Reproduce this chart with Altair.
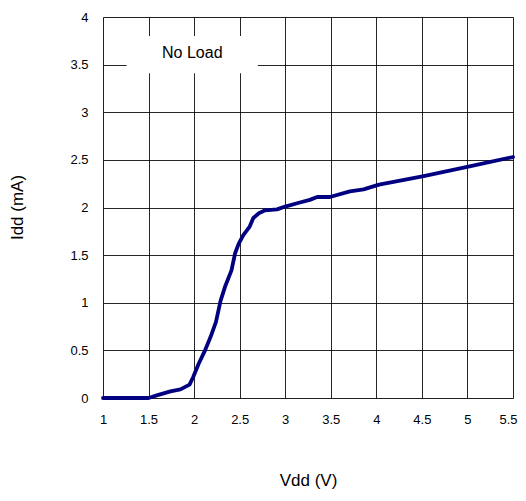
import altair as alt
import pandas as pd

vdd = [1.0, 1.5, 1.6, 1.74, 1.85, 1.95, 1.99, 2.05, 2.12, 2.18, 2.24, 2.29, 2.34, 2.41, 2.45, 2.49, 2.54, 2.61, 2.65, 2.71, 2.78, 2.91, 3.0, 3.15, 3.27, 3.35, 3.49, 3.71, 3.86, 4.03, 4.52, 5.01, 5.5]
idd = [0.0, 0.0, 0.03, 0.07, 0.09, 0.14, 0.22, 0.36, 0.5, 0.64, 0.80, 1.02, 1.17, 1.34, 1.52, 1.62, 1.71, 1.80, 1.89, 1.94, 1.97, 1.98, 2.01, 2.05, 2.08, 2.11, 2.11, 2.17, 2.19, 2.24, 2.33, 2.43, 2.53]

label_text = ["No Load"]
label_x = [1.98]
label_y = [3.62]
box_x = [1.26]
box_x2 = [2.70]
box_y = [3.41]
box_y2 = [3.80]

df = pd.DataFrame({"Vdd": vdd, "Idd": idd})
lab = pd.DataFrame({"t": label_text, "x": label_x, "y": label_y,
                    "bx": box_x, "bx2": box_x2, "by": box_y, "by2": box_y2})

font = "Liberation Sans"

xs = alt.Scale(domain=[1, 5.5], nice=False, zero=False)
ys = alt.Scale(domain=[0, 4], nice=False)

xaxis = alt.Axis(values=[1, 1.5, 2, 2.5, 3, 3.5, 4, 4.5, 5, 5.5], format="~g", title="Vdd (V)",
                 ticks=False, domain=False, labelPadding=15, labelFontSize=13,
                 labelFont=font, labelColor="#000", labelFlush=False,
                 labelAlign=alt.expr("datum.value == 5.5 ? 'right' : 'center'"),
                 labelOffset=alt.expr("datum.value == 5.5 ? 4 : 0"),
                 titleFont=font, titleFontSize=17, titleFontWeight="normal",
                 titleColor="#000", titleX=205, titleY=82, titleBaseline="middle",
                 titleAlign="center",
                 grid=True, gridColor="#000", gridOpacity=0.85, gridWidth=1)
yaxis = alt.Axis(values=[0, 0.5, 1, 1.5, 2, 2.5, 3, 3.5, 4], format="~g", title="Idd (mA)",
                 ticks=False, domain=False, labelPadding=15, labelFontSize=13,
                 labelFont=font, labelColor="#000", labelFlush=False,
                 titleFont=font, titleFontSize=17, titleFontWeight="normal",
                 titleColor="#000", titleX=-86, titleY=190, titleAngle=-90,
                 titleBaseline="middle", titleAlign="center",
                 grid=True, gridColor="#000", gridOpacity=0.85, gridWidth=1)

line = alt.Chart(df).mark_line(color="#000080", strokeWidth=3.8, strokeJoin="round", strokeCap="round").encode(
    x=alt.X("Vdd:Q", scale=xs, axis=xaxis),
    y=alt.Y("Idd:Q", scale=ys, axis=yaxis),
)

box = alt.Chart(lab).mark_rect(fill="white").encode(
    x=alt.X("bx:Q", scale=xs), x2="bx2:Q",
    y=alt.Y("by:Q", scale=ys), y2="by2:Q",
)

txt = alt.Chart(lab).mark_text(font=font, fontSize=16, color="#000", align="center", baseline="middle").encode(
    x=alt.X("x:Q", scale=xs), y=alt.Y("y:Q", scale=ys), text="t:N"
)

chart = alt.layer(box, line, txt).properties(
    width=410, height=381,
    padding={"left": 95, "top": 9, "right": 5, "bottom": 95},
    autosize="none",
).configure_view(stroke="#000", strokeWidth=1).configure(background="white")

chart.save("out.html", embed_options={"renderer": "svg", "actions": False})
